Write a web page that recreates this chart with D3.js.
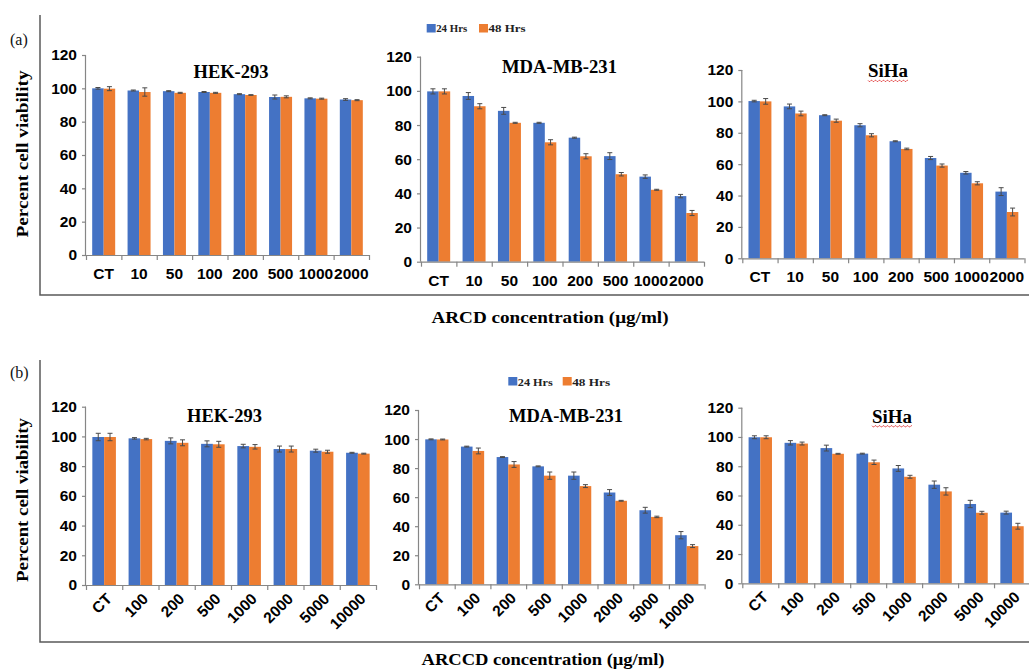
<!DOCTYPE html>
<html><head><meta charset="utf-8">
<script src="https://cdn.jsdelivr.net/npm/d3@7"></script>
<style>body{margin:0;background:#fff}svg{display:block}</style>
</head><body>
<svg id="c" width="1029" height="671"></svg>
<script>
// ---------- DATA ----------
const catsA = ["CT","10","50","100","200","500","1000","2000"];
const catsB = ["CT","100","200","500","1000","2000","5000","10000"];
const seriesNames = ["24 Hrs","48 Hrs"];
const cellLines = ["HEK-293","MDA-MB-231","SiHa"];
const yTicks = [0,20,40,60,80,100,120];
const xTitleA = "ARCD concentration (μg/ml)";
const xTitleB = "ARCCD concentration (μg/ml)";
const yTitle = "Percent cell viability";

const hekA24 = [100, 98.7, 98.3, 97.8, 96.5, 94.8, 94.0, 93.3];
const hekA24err = [0.5, 0.3, 0.3, 0.3, 0.3, 1.2, 0.3, 0.5];
const hekA48 = [99.8, 97.8, 97.3, 97.3, 96.0, 94.9, 93.8, 92.9];
const hekA48err = [1.2, 2.5, 0.3, 0.3, 0.2, 0.6, 0.3, 0.3];
const mdaA24 = [99.7, 97.0, 88.3, 81.3, 72.6, 61.8, 49.8, 38.4];
const mdaA24err = [1.5, 2, 2, 0.3, 0.3, 2, 1, 1];
const mdaA48 = [99.7, 91.0, 81.3, 69.9, 61.7, 51.2, 42.1, 28.5];
const mdaA48err = [1.5, 1.5, 0.3, 1.5, 1.5, 1, 0.3, 1.5];
const sihaA24 = [100.2, 96.8, 91.2, 84.8, 74.6, 63.9, 54.5, 42.5];
const sihaA24err = [0.5, 1.5, 0.3, 1, 0.3, 1, 0.8, 2.5];
const sihaA48 = [100.0, 92.3, 87.7, 78.4, 69.7, 59.1, 47.8, 29.5];
const sihaA48err = [1.8, 1.5, 1, 1, 0.5, 1, 1, 2.5];

const hekB24 = [99.6, 98.7, 97.0, 95.0, 93.5, 91.5, 90.4, 89.0];
const hekB24err = [2.5, 0.5, 2, 2, 1.2, 2, 1, 0.3];
const hekB48 = [99.6, 98.2, 95.7, 94.7, 93.0, 91.5, 89.7, 88.4];
const hekB48err = [2.5, 0.5, 2, 2, 1.5, 2, 1, 0.3];
const mdaB24 = [99.8, 94.8, 87.6, 81.2, 74.8, 63.2, 51.0, 33.8];
const mdaB24err = [0.3, 0.3, 0.3, 0.3, 2.5, 2, 2, 2.5];
const mdaB48 = [99.7, 91.8, 82.5, 74.8, 67.6, 57.5, 46.4, 26.3];
const mdaB48err = [0.3, 2, 2, 2.5, 1, 0.3, 0.5, 1];
const sihaB24 = [99.8, 96.0, 92.4, 88.6, 78.5, 67.4, 54.2, 48.3];
const sihaB24err = [1, 1.5, 2, 0.3, 2, 2.5, 2.5, 1];
const sihaB48 = [99.8, 95.5, 88.5, 82.7, 72.8, 62.8, 48.2, 39.0];
const sihaB48err = [1, 1, 0.3, 1.5, 1, 2.5, 1, 2];

// ---------- LAYOUT ----------
const colors = ["#4472C4", "#ED7D31"];
const svg = d3.select("#c");
const serif = "'Liberation Serif','Times New Roman',serif";
const sans = "'Liberation Sans',Arial,sans-serif";
const tickFont = 15.5;

const charts = [
  {cats:catsA, s:[[hekA24,hekA24err],[hekA48,hekA48err]], x0:86, x1:369, y0:255, y1:55, rot:false, title:cellLines[0], tx:231, ty:77.5, tw:75},
  {cats:catsA, s:[[mdaA24,mdaA24err],[mdaA48,mdaA48err]], x0:421, x1:704, y0:261.7, y1:56.7, rot:false, title:cellLines[1], tx:559.5, ty:72.5, tw:115},
  {cats:catsA, s:[[sihaA24,sihaA24err],[sihaA48,sihaA48err]], x0:742.3, x1:1024.5, y0:258.3, y1:70, rot:false, title:cellLines[2], tx:888, ty:77.3, tw:40, wavy:true},
  {cats:catsB, s:[[hekB24,hekB24err],[hekB48,hekB48err]], x0:86, x1:376, y0:585, y1:406.7, rot:true, title:cellLines[0], tx:224.5, ty:421.7, tw:75},
  {cats:catsB, s:[[mdaB24,mdaB24err],[mdaB48,mdaB48err]], x0:419, x1:704.6, y0:584.3, y1:410, rot:true, title:cellLines[1], tx:566, ty:421.7, tw:114},
  {cats:catsB, s:[[sihaB24,sihaB24err],[sihaB48,sihaB48err]], x0:742.3, x1:1030, y0:583.3, y1:407.7, rot:true, title:cellLines[2], tx:892, ty:422.7, tw:40, wavy:true}
];

charts.forEach(c => {
  const g = svg.append("g");
  const x = d3.scaleBand().domain(c.cats).range([c.x0, c.x1]).paddingInner(0.35).paddingOuter(0.175);
  const xs = d3.scaleBand().domain([0,1]).range([0, x.bandwidth()]);
  const y = d3.scaleLinear().domain([0,120]).range([c.y0, c.y1]);
  const xb = d3.scaleLinear().domain([0, c.cats.length]).range([c.x0, c.x1]);

  // bars
  c.s.forEach((ser, si) => {
    g.append("g").selectAll("rect").data(ser[0]).join("rect")
      .attr("x", (d,i) => x(c.cats[i]) + xs(si))
      .attr("width", xs.bandwidth())
      .attr("y", d => y(d))
      .attr("height", d => y(0) - y(d))
      .attr("fill", colors[si]);
  });
  // error bars
  c.s.forEach((ser, si) => {
    const eg = g.append("g").attr("stroke", "#4a4a4a").attr("stroke-width", 1).attr("fill", "none");
    ser[0].forEach((v, i) => {
      const cx = x(c.cats[i]) + xs(si) + xs.bandwidth()/2;
      const e = ser[1][i];
      eg.append("line").attr("x1", cx).attr("x2", cx).attr("y1", y(v - e)).attr("y2", y(v + e));
      [v - e, v + e].forEach(t => eg.append("line").attr("x1", cx - 2.5).attr("x2", cx + 2.5).attr("y1", y(t)).attr("y2", y(t)));
    });
  });

  // y axis
  const ya = g.append("g").attr("transform", `translate(${c.x0},0)`)
    .call(d3.axisLeft(y).tickValues(yTicks).tickSize(4).tickPadding(5));
  ya.selectAll("path,line").attr("stroke", "#868686").attr("stroke-width", 1.2);
  ya.selectAll("text").attr("font-family", sans).attr("font-weight", "bold").attr("font-size", tickFont).attr("fill", "#000");
  ya.select(".domain").attr("d", `M-0.5,${c.y0}V${c.y1}`);

  // x axis ticks at category boundaries
  const xa = g.append("g").attr("transform", `translate(0,${c.y0})`)
    .call(d3.axisBottom(xb).tickValues(d3.range(c.cats.length + 1)).tickSize(5).tickFormat(""));
  xa.selectAll("path,line").attr("stroke", "#868686").attr("stroke-width", 1.2);
  xa.select(".domain").attr("d", `M${c.x0},0.5H${c.x1}`);

  // x labels
  const lab = g.append("g").attr("font-family", sans).attr("font-weight", "bold").attr("font-size", tickFont).attr("fill", "#000");
  c.cats.forEach(cat => {
    const cx = x(cat) + x.bandwidth()/2;
    if (!c.rot) {
      lab.append("text").attr("x", cx).attr("y", c.y0 + 24).attr("text-anchor", "middle").text(cat);
    } else {
      lab.append("text").attr("text-anchor", "end")
        .attr("transform", `translate(${cx + 5},${c.y0 + 11}) rotate(-45)`)
        .attr("dy", "0.35em").text(cat);
    }
  });

  // title
  g.append("text").attr("x", c.tx).attr("y", c.ty).attr("text-anchor", "middle")
    .attr("font-family", serif).attr("font-weight", "bold").attr("font-size", 18).attr("fill", "#000")
    .attr("textLength", c.tw).attr("lengthAdjust", "spacingAndGlyphs").text(c.title);
  if (c.wavy) {
    let d = `M${c.tx - c.tw/2},${c.ty + 3}`;
    for (let k = 0; k < c.tw / 2; k++) d += `l1,${k % 2 ? -1.2 : 1.2}l1,0`;
    g.append("path").attr("d", d).attr("stroke", "#e04040").attr("stroke-width", 0.8).attr("fill", "none");
  }
});

// legends
function legend(xq, yq, w1, x2, w2, base) {
  const lg = svg.append("g").attr("font-family", serif).attr("font-weight", "bold").attr("font-size", 11).attr("fill", "#222");
  [[xq, w1], [x2, w2]].forEach((p, i) => {
    lg.append("rect").attr("x", p[0]).attr("y", yq).attr("width", 9).attr("height", 8.5).attr("fill", colors[i]);
    lg.append("text").attr("x", p[0] + 9.5).attr("y", base).attr("textLength", p[1]).attr("lengthAdjust", "spacingAndGlyphs").text(seriesNames[i]);
  });
}
legend(426.7, 24, 31, 479, 37, 31.7);
legend(508.3, 377, 35, 562.7, 38, 385.5);

// panel frames
const frame = svg.append("g").attr("stroke", "#5a5a5a").attr("stroke-width", 1.5).attr("fill", "none");
frame.append("path").attr("d", "M40,15V295H1029");
frame.append("path").attr("d", "M40,360V642H1029");

// panel letters
svg.append("text").attr("x", 10).attr("y", 45).attr("font-family", serif).attr("font-size", 16).attr("fill", "#111").text("(a)");
svg.append("text").attr("x", 10).attr("y", 378).attr("font-family", serif).attr("font-size", 16).attr("fill", "#111").text("(b)");

// axis titles
function bold(t, xx, yy, len, rot) {
  const e = svg.append("text").attr("text-anchor", "middle").attr("font-family", serif).attr("font-weight", "bold")
    .attr("font-size", 16).attr("fill", "#000").attr("textLength", len).attr("lengthAdjust", "spacingAndGlyphs").text(t);
  if (rot) e.attr("transform", `translate(${xx},${yy}) rotate(-90)`);
  else e.attr("x", xx).attr("y", yy);
}
bold(xTitleA, 550, 323, 237, false);
bold(xTitleB, 543, 665, 243, false);
bold(yTitle, 28, 154, 167, true);
bold(yTitle, 28, 500, 164, true);
</script>
</body></html>
